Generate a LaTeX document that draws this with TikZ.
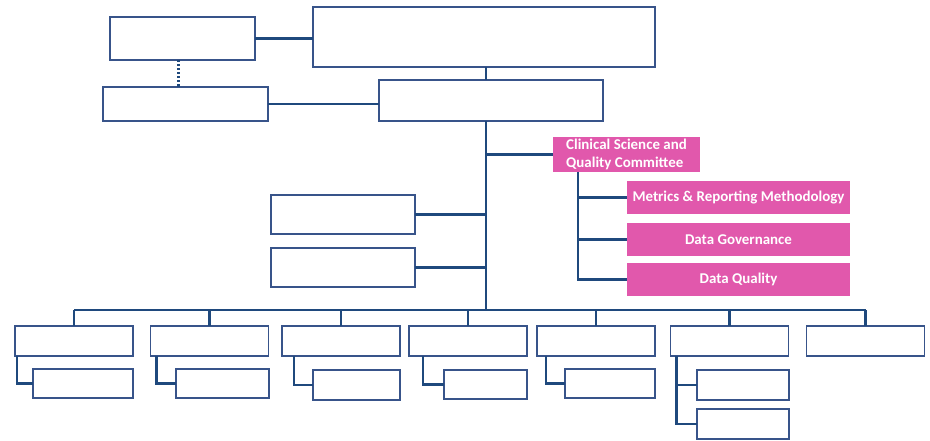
\documentclass[tikz,border=0pt]{standalone}
\usepackage{fontspec}
\setmainfont{Carlito}
\usetikzlibrary{positioning}
\definecolor{navyline}{RGB}{31,73,125}
\definecolor{navybox}{RGB}{56,84,138}
\definecolor{committee}{RGB}{225,88,172}
\tikzset{
	unit/.style={draw=navybox, line width=1pt, fill=white, inner sep=0pt, outer sep=0pt},
	pinkunit/.style={fill=committee, text=white, inner sep=0pt, outer sep=0pt, font=\fontsize{8.5}{10}\selectfont\bfseries},
	link/.style={draw=navyline, line width=1.5pt}
}
\begin{document}
\begin{tikzpicture}[x=0.02cm, y=-0.02cm]
			%%%%% START %%%%%
			\useasboundingbox (0, 0) rectangle (930, 440);
			
			% top of the chart
			\node[unit, minimum width=2.90cm, minimum height=0.86cm] (advisor) at (182.5, 38.5) {};
			\node[unit, minimum width=6.84cm, minimum height=1.20cm] (board) at (484, 37) {};
			\node[unit, minimum width=4.48cm, minimum height=0.82cm] (exec) at (491, 100.5) {};
			\node[unit, minimum width=3.30cm, minimum height=0.68cm] (staff) at (185.5, 104) {};
			
			\coordinate (trunk) at (486, 310);
			\coordinate (cspine) at (578, 0);
			
			\draw[link] (advisor.east) -- (advisor.east -| board.west);
			\draw[link] (staff.east) -- (staff.east -| exec.west);
			\draw[navyline, line width=1.3pt, densely dotted] ([xshift=-0.08cm]advisor.south) -- ([xshift=-0.08cm]advisor.south |- staff.north);
			\draw[link] (board.south -| trunk) -- (exec.north -| trunk);
			\draw[link] (exec.south -| trunk) -- (trunk);
			
			% committee and its groups
			\node[pinkunit, minimum width=2.94cm, minimum height=0.70cm, align=left] (csqc) at (626.5, 154.5) {Clinical Science and\\Quality Committee};
			\node[pinkunit, minimum width=4.46cm, minimum height=0.66cm] (metrics) at (738.5, 197.5) {Metrics \& Reporting Methodology};
			\node[pinkunit, minimum width=4.46cm, minimum height=0.66cm] (govern) at (738.5, 239.5) {Data Governance};
			\node[pinkunit, minimum width=4.46cm, minimum height=0.66cm] (quality) at (738.5, 279.5) {Data Quality};
			
			\draw[link] (csqc.west) -- (csqc.west -| trunk);
			\draw[link] (csqc.south -| cspine) -- (quality.west -| cspine) -- (quality.west);
			\draw[link] (metrics.west -| cspine) -- (metrics.west);
			\draw[link] (govern.west -| cspine) -- (govern.west);
			
			% side units
			\node[unit, minimum width=2.88cm, minimum height=0.78cm] (sideA) at (343, 214.5) {};
			\node[unit, minimum width=2.88cm, minimum height=0.78cm] (sideB) at (343, 267.5) {};
			\draw[link] (sideA.east) -- (sideA.east -| trunk);
			\draw[link] (sideB.east) -- (sideB.east -| trunk);
			
			% bottom row
			\foreach \k/\x in {1/74, 2/209.5, 3/341, 4/468, 5/596, 6/729.5, 7/865.5}
				\node[unit, minimum width=2.36cm, minimum height=0.60cm] (dept\k) at (\x, 341) {};
			
			\draw[link] (dept1.north |- trunk) -- (dept7.north |- trunk);
			\foreach \k in {1,...,7}
				\draw[link] (dept\k.north |- trunk) -- (dept\k.north);
			
			\node[unit, minimum width=2.00cm, minimum height=0.58cm] (sub1) at (83, 383.5) {};
			\node[unit, minimum width=1.86cm, minimum height=0.58cm] (sub2) at (222.5, 383.5) {};
			\node[unit, minimum width=1.74cm, minimum height=0.60cm] (sub3) at (356.5, 385) {};
			\node[unit, minimum width=1.66cm, minimum height=0.58cm] (sub4) at (485.5, 384.5) {};
			\node[unit, minimum width=1.80cm, minimum height=0.58cm] (sub5) at (610, 383.5) {};
			\node[unit, minimum width=1.84cm, minimum height=0.60cm] (sub6a) at (743, 385) {};
			\node[unit, minimum width=1.84cm, minimum height=0.60cm] (sub6b) at (743, 424) {};
			
			\draw[link] ([xshift=0.04cm]dept1.south west) |- (sub1.west);
			\draw[link] ([xshift=0.12cm]dept2.south west) |- (sub2.west);
			\draw[link] ([xshift=0.24cm]dept3.south west) |- (sub3.west);
			\draw[link] ([xshift=0.28cm]dept4.south west) |- (sub4.west);
			\draw[link] ([xshift=0.18cm]dept5.south west) |- (sub5.west);
			\draw[link] ([xshift=0.12cm]dept6.south west) |- (sub6b.west);
			\draw[link] ([xshift=0.12cm]dept6.south west |- sub6a.west) -- (sub6a.west);
			
			%%%%% END %%%%%
\end{tikzpicture}
\end{document}
